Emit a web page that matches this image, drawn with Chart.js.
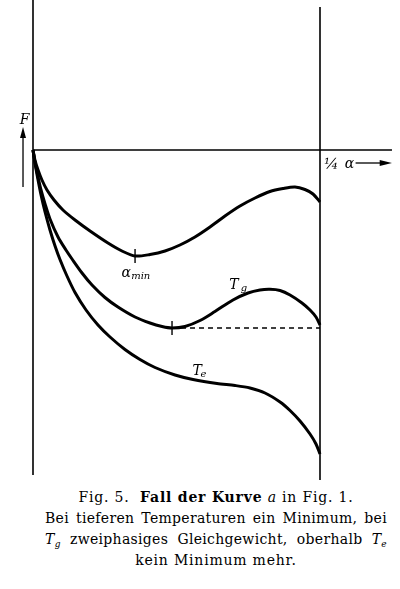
<!DOCTYPE html>
<html>
<head>
<meta charset="utf-8">
<script src="https://cdn.jsdelivr.net/npm/chart.js@4"></script>
<style>
body{margin:0;background:#fff;width:400px;height:589px;position:relative;overflow:hidden}
#wrap{position:absolute;left:0;top:0;width:400px;height:480px}
.cap{position:absolute;left:45px;width:342px;font-family:"DejaVu Serif",serif;font-size:14px;letter-spacing:0.8px;color:#000;line-height:21px}
.j{text-align:justify;text-align-last:justify;letter-spacing:0.3px}
.c{text-align:center}
i{font-style:italic}
sub{font-size:9px;vertical-align:-3px;line-height:0}
</style>
</head>
<body>
<div id="wrap"><canvas id="fig" width="400" height="480"></canvas></div>
<div class="cap c" style="top:487px">Fig. 5.&nbsp; <b style="font-weight:600">Fall der Kurve</b> <i>a</i> in Fig. 1.</div>
<div class="cap j" style="top:508px">Bei tieferen Temperaturen ein Minimum, bei</div>
<div class="cap j" style="top:529px"><i>T<sub>g</sub></i> zweiphasiges Gleichgewicht, oberhalb <i>T<sub>e</sub></i></div>
<div class="cap c" style="top:550px">kein Minimum mehr.</div>
<script>
// alpha values (x) and free energy F (y)
const aMinX = [0, 0.0017, 0.0044, 0.0078, 0.0122, 0.0183, 0.0261, 0.0366, 0.0497, 0.0653, 0.0775, 0.0889, 0.1019, 0.115, 0.128, 0.1411, 0.1542, 0.1672, 0.1803, 0.1934, 0.2064, 0.2178, 0.2282, 0.2369, 0.2439, 0.25];
const aMinF = [0, -0.10, -0.20, -0.30, -0.40, -0.50, -0.60, -0.70, -0.81, -0.93, -1.01, -1.06, -1.045, -1.01, -0.95, -0.87, -0.77, -0.66, -0.56, -0.48, -0.415, -0.385, -0.37, -0.395, -0.44, -0.52];
const tgX = [0, 0.0017, 0.0044, 0.007, 0.0105, 0.0148, 0.0218, 0.0287, 0.034, 0.0427, 0.0514, 0.0627, 0.074, 0.0889, 0.1019, 0.1124, 0.1211, 0.1324, 0.1455, 0.1585, 0.1742, 0.1873, 0.1977, 0.2064, 0.2152, 0.2239, 0.2343, 0.2413, 0.2465, 0.25];
const tgF = [0, -0.12, -0.27, -0.40, -0.54, -0.69, -0.87, -1.00, -1.09, -1.23, -1.35, -1.475, -1.57, -1.67, -1.73, -1.765, -1.78, -1.765, -1.705, -1.615, -1.50, -1.43, -1.40, -1.393, -1.405, -1.45, -1.53, -1.60, -1.67, -1.75];
const teX = [0, 0.0017, 0.0044, 0.007, 0.0105, 0.0148, 0.0192, 0.0235, 0.0296, 0.0366, 0.0462, 0.0566, 0.0671, 0.0801, 0.0932, 0.1063, 0.1237, 0.1394, 0.1603, 0.176, 0.189, 0.2021, 0.2152, 0.2239, 0.2326, 0.2413, 0.2465, 0.25];
const teF = [0, -0.13, -0.30, -0.45, -0.62, -0.80, -0.96, -1.095, -1.26, -1.425, -1.60, -1.75, -1.87, -1.995, -2.095, -2.175, -2.25, -2.295, -2.335, -2.355, -2.38, -2.43, -2.52, -2.605, -2.71, -2.84, -2.94, -3.04];
// minimum marks and the two-phase tie line
const tickX = [0.0889, 0.1211];
const tickF = [-1.06, -1.78];
const tieX = [0.1211, 0.25];
const tieF = [-1.78, -1.78];
const quarter = 0.25;

const pts = (xs, ys) => xs.map((x, i) => ({x: x, y: ys[i]}));
const curve = (xs, ys) => ({data: pts(xs, ys), borderColor: '#000', borderWidth: 3, pointRadius: 0, tension: 0.3, fill: false});

const frame = {
  id: 'frame',
  afterDatasetsDraw(chart) {
    const c = chart.ctx, xs = chart.scales.x, ys = chart.scales.y;
    const X = v => xs.getPixelForValue(v), Y = v => ys.getPixelForValue(v);
    c.save();
    c.strokeStyle = '#000'; c.fillStyle = '#000'; c.lineWidth = 1.6;
    c.beginPath();
    c.moveTo(X(0), Y(1.5)); c.lineTo(X(0), Y(-3.25));
    c.moveTo(X(quarter), Y(1.43)); c.lineTo(X(quarter), Y(-3.3));
    c.moveTo(X(0), Y(0)); c.lineTo(X(0.3127), Y(0));
    c.stroke();
    // F arrow
    c.lineWidth = 1.3;
    c.beginPath(); c.moveTo(X(-0.0087), Y(-0.37)); c.lineTo(X(-0.0087), Y(0.16)); c.stroke();
    c.beginPath(); c.moveTo(X(-0.0087), Y(0.23)); c.lineTo(X(-0.0087) - 3, Y(0.12)); c.lineTo(X(-0.0087) + 3, Y(0.12)); c.closePath(); c.fill();
    // alpha arrow
    c.beginPath(); c.moveTo(X(0.281), Y(-0.13)); c.lineTo(X(0.305), Y(-0.13)); c.stroke();
    c.beginPath(); c.moveTo(X(0.3127), Y(-0.13)); c.lineTo(X(0.302), Y(-0.10)); c.lineTo(X(0.302), Y(-0.16)); c.closePath(); c.fill();
    c.textBaseline = 'alphabetic'; c.textAlign = 'left';
    c.font = 'italic 14px "DejaVu Serif"';
    c.fillText('F', X(-0.0115), Y(0.26));
    c.fillText('α', X(0.2715), Y(-0.175));
    c.fillText('α', X(0.077), Y(-1.27));
    c.fillText('T', X(0.171), Y(-1.39));
    c.fillText('T', X(0.139), Y(-2.25));
    c.font = 'italic 10px "DejaVu Serif"';
    c.fillText('min', X(0.0855), Y(-1.29));
    c.fillText('g', X(0.181), Y(-1.41));
    c.fillText('e', X(0.146), Y(-2.27));
    c.font = 'italic 15px "DejaVu Serif"';
    c.fillText('¼', X(0.2535), Y(-0.19));
    c.restore();
  }
};

new Chart(document.getElementById('fig'), {
  type: 'line',
  data: {datasets: [
    curve(aMinX, aMinF),
    curve(tgX, tgF),
    curve(teX, teF),
    {data: pts(tieX, tieF), borderColor: '#000', borderWidth: 1.3, borderDash: [5, 4], pointRadius: 0},
    {type: 'scatter', data: pts(tickX, tickF), pointStyle: 'line', rotation: 90, pointRadius: 7, borderColor: '#000', borderWidth: 1.4}
  ]},
  options: {
    responsive: false, animation: false, devicePixelRatio: 1,
    layout: {padding: 0, autoPadding: false},
    plugins: {legend: {display: false}, tooltip: {enabled: false}},
    scales: {
      x: {type: 'linear', display: false, min: -0.028746, max: 0.319686},
      y: {display: false, min: -3.3, max: 1.5}
    }
  },
  plugins: [frame]
});
</script>
</body>
</html>
